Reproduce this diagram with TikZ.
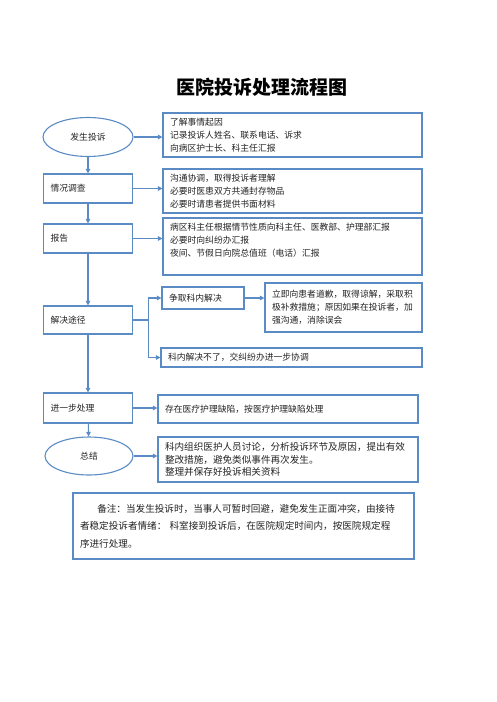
\documentclass[tikz,border=0pt]{standalone}
\usepackage{fontspec}
\setmainfont{Noto Sans CJK SC}
\usepackage{tikz}
\usetikzlibrary{positioning,arrows.meta,shapes.geometric,calc}
\definecolor{flow}{HTML}{5B8BC4}
\definecolor{ink}{HTML}{222222}

\begin{document}
\begin{tikzpicture}[x=1pt,y=-1pt,every node/.style={font=\fontsize{8.8}{13}\selectfont,text=ink}]
    \tikzstyle{b}=[draw=flow,line width=1.1pt,inner xsep=7pt,inner ysep=2pt,align=left];
    \tikzstyle{e}=[ellipse,draw=flow,line width=1.1pt,inner sep=0pt];
    \tikzstyle{link}=[flow,line width=1.1pt,-{Triangle[length=4.5pt,width=4.5pt]}];
    \useasboundingbox (0,0) rectangle (496,702);

    \node[font=\fontsize{19}{24}\selectfont\bfseries,text=black] (title) at (262,87) {医院投诉处理流程图};

    % left column
    \node[e,minimum width=90pt,minimum height=39pt] (start) at (88,137) {发生投诉\hspace{18pt}};
    \node[b,text width=75pt,minimum height=29pt] (check)   at (88,188.5) {情况调查};
    \node[b,text width=75pt,minimum height=29pt] (report)  at (88,238.5) {报告};
    \node[b,text width=75pt,minimum height=28pt] (solve)   at (88,320)   {解决途径};
    \node[b,text width=75pt,minimum height=30pt] (further) at (88,408)   {进一步处理};
    \node[e,minimum width=88pt,minimum height=38pt] (sum)  at (89,456)   {总结};

    % right column
    \node[b,text width=245pt,minimum height=44pt] (info1) at (292.5,135)
        {了解事情起因\\记录投诉人姓名、联系电话、诉求\\向病区护士长、科主任汇报};
    \node[b,text width=245pt,minimum height=44pt] (info2) at (292.5,191)
        {沟通协调，取得投诉者理解\\必要时医患双方共通封存物品\\必要时请患者提供书面材料};
    \node[b,text width=245pt,minimum height=57pt] (info3) at (292.5,246.5)
        {病区科主任根据情节性质向科主任、医教部、护理部汇报\\必要时向纠纷办汇报\\夜间、节假日向院总值班（电话）汇报\rule[-13pt]{0pt}{13pt}};
    \node[b,text width=68pt,minimum height=22pt] (inner) at (203,298) {争取科内解决};
    \node[b,text width=143pt,minimum height=49pt] (apology) at (343.5,307.5)
        {立即向患者道歉，取得谅解，采取积\\极补救措施；原因如果在投诉者，加\\强沟通，消除误会};
    \node[b,text width=247pt,minimum height=19pt] (transfer) at (291.5,357.5)
        {科内解决不了，交纠纷办进一步协调};
    \node[b,text width=246pt,minimum height=28pt] (defect) at (288,409)
        {存在医疗护理缺陷，按医疗护理缺陷处理};
    \node[b,text width=246pt,minimum height=45pt,font=\fontsize{9.6}{12.5}\selectfont] (sumtext) at (288,459.5)
        {科内组织医护人员讨论，分析投诉环节及原因，提出有效\\整改措施，避免类似事件再次发生。\\整理并保存好投诉相关资料};

    % note
    \node[b,text width=327pt,minimum height=66pt,font=\fontsize{9.6}{17.5}\selectfont] (note) at (243.5,526)
        {\hspace*{1.8em}备注：当发生投诉时，当事人可暂时回避，避免发生正面冲突，由接待\\者稳定投诉者情绪：\ 科室接到投诉后，在医院规定时间内，按医院规定程\\序进行处理。};

    % trunk
    \draw[link] (start) -- (check);
    \draw[link] (check) -- (report);
    \draw[link] (report) -- (solve);
    \draw[link] (solve) -- (further);
    \draw[link] (further) -- (sum);

    % to the right
    \draw[link] (start.east) -- (start.east -| info1.west);
    \draw[link] (check.east) -- (check.east -| info2.west);
    \draw[link] (report.east) -- (report.east -| info3.west);
    \draw[link] (further.east) -- (further.east -| defect.west);
    \draw[link] (sum.east) -- (sum.east -| sumtext.west);
    \draw[link] (inner) -- (inner -| apology.west);

    % fork
    \coordinate (fork) at ($(solve.east)+(15,0)$);
    \draw[flow,line width=1.1pt] (solve.east) -- (fork);
    \draw[link] (fork) |- (inner.west);
    \draw[link] (fork) |- (transfer.west);
\end{tikzpicture}
\end{document}
